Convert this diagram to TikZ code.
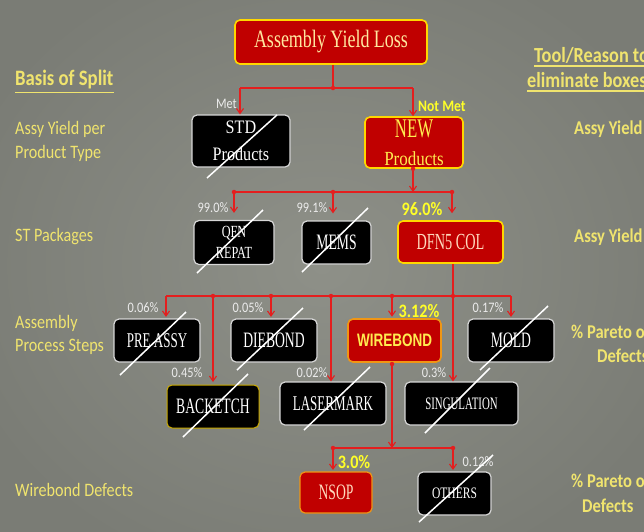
\documentclass[tikz,border=0pt]{standalone}
\usepackage{fontspec}
\setmainfont{Liberation Serif}
\newfontfamily\serA[FakeStretch=0.62]{Liberation Serif}
\newfontfamily\serB[FakeStretch=0.72]{Liberation Serif}
\newfontfamily\serC[FakeStretch=0.85]{Liberation Serif}
\newfontfamily\lbl[FakeStretch=0.85]{Carlito}
\newfontfamily\wbf[FakeStretch=0.75]{Liberation Sans}
\usetikzlibrary{arrows.meta}
\newcommand{\fsz}[1]{\fontsize{#1}{1.2\dimexpr #1pt\relax}\selectfont}
\definecolor{bgin}{RGB}{142,144,136}
\definecolor{bgout}{RGB}{122,124,117}
\definecolor{boxred}{RGB}{192,0,0}
\definecolor{ybord}{RGB}{255,215,0}
\definecolor{obord}{RGB}{240,150,20}
\definecolor{wbord}{RGB}{215,215,215}
\definecolor{conn}{RGB}{228,30,30}
\definecolor{lbly}{RGB}{240,228,110}
\definecolor{txty}{RGB}{255,232,160}
\definecolor{newy}{RGB}{255,235,80}
\definecolor{pinky}{RGB}{255,218,190}
\definecolor{pcty}{RGB}{255,255,40}
\definecolor{pctw}{RGB}{235,235,235}
\tikzset{
  redbox/.style={draw=ybord, line width=1.6pt, fill=boxred, rounded corners=5pt, inner sep=0pt, align=center, text=txty},
  blkbox/.style={draw=wbord, line width=1.2pt, fill=black, rounded corners=5pt, inner sep=0pt, align=center, text=white},
  slash/.style={draw=white, line width=1.5pt},
  wire/.style={draw=conn, line width=1.1pt},
  arr/.style={wire, -{Straight Barb[length=5pt,width=7pt]}},
  jdot/.style={circle, fill=conn, inner sep=0pt, minimum size=4.5pt},
  lefttxt/.style={anchor=west, inner sep=0pt, text=lbly, font=\lbl\fsz{19}},
  righttxt/.style={anchor=west, inner sep=0pt, text=lbly, font=\lbl\bfseries\fsz{19.5}},
  pctw/.style={inner sep=0pt, text=pctw, font=\lbl\fsz{14.5}},
  pcty/.style={inner sep=0pt, text=pcty, font=\lbl\bfseries\fsz{19}},
  uline/.style={draw=lbly, line width=1.6pt}
}
\begin{document}
\begin{tikzpicture}[x=1pt,y=-1pt]
\useasboundingbox (0,0) rectangle (644,531);
\clip (0,0) rectangle (644,531);
\shade[inner color=bgin, outer color=bgout] (-60,-60) rectangle (704,591);

% ---- boxes ----
\node[redbox, minimum width=192pt, minimum height=44pt, font=\serB\fsz{25}] (top) at (331,42) {Assembly Yield Loss};
\node[blkbox, minimum width=98pt, minimum height=52pt, font=\serC\fsz{19}] (std) at (241,141) {STD\\[4pt]Products};
\node[redbox, minimum width=98pt, minimum height=51pt, text=newy, font=\serA\fsz{27}] (new) at (414,142.5) {NEW\\[-4pt]{\serC\fsz{20}Products}};
\node[blkbox, minimum width=80pt, minimum height=44pt, font=\serB\fsz{17}] (qfn) at (234,242.5) {QFN\\[1pt]REPAT};
\node[blkbox, minimum width=69pt, minimum height=43pt, font=\serA\fsz{22}] (mems) at (336.5,242.5) {MEMS};
\node[redbox, minimum width=105pt, minimum height=42pt, text=pinky, font=\serA\fsz{23}] (dfn) at (450.5,242) {DFN5 COL};
\node[blkbox, minimum width=86pt, minimum height=43pt, font=\serA\fsz{21}] (pre) at (157,340.5) {PRE ASSY};
\node[blkbox, minimum width=86pt, minimum height=43pt, font=\serA\fsz{22}] (die) at (274,340.5) {DIEBOND};
\node[redbox, draw=obord, minimum width=93pt, minimum height=43pt, text=newy, font=\wbf\bfseries\fsz{18}] (wire) at (394.5,340.5) {WIREBOND};
\node[blkbox, minimum width=86pt, minimum height=43pt, font=\serA\fsz{22}] (mold) at (511,340.5) {MOLD};
\node[blkbox, draw=ybord!80!black, line width=1pt, minimum width=92pt, minimum height=43pt, font=\serA\fsz{22}] (back) at (213,406.5) {BACKETCH};
\node[blkbox, minimum width=106pt, minimum height=43pt, font=\serA\fsz{21}] (laser) at (333,403.5) {LASERMARK};
\node[blkbox, minimum width=113pt, minimum height=43pt, font=\serA\fsz{17.5}] (sing) at (461.5,403.5) {SINGULATION};
\node[redbox, draw=obord, line width=1.2pt, minimum width=72pt, minimum height=41pt, text=pinky, font=\serA\fsz{22}] (nsop) at (336,492.5) {NSOP};
\node[blkbox, minimum width=73pt, minimum height=43pt, font=\serB\fsz{16}] (oth) at (454.5,493.5) {OTHERS};

% ---- level 1 ----
\coordinate (j1) at (333,88);
\coordinate (j1l) at (240,88);
\coordinate (j1r) at (413,88);
\draw[wire] (top.south -| j1) -- (j1);
\draw[wire] (j1l) -- (j1r);
\draw[arr] (j1l) -- (j1l |- std.north);
\draw[arr] (j1r) -- (j1r |- new.north);
\node[jdot] (d1) at (j1) {};

% ---- level 2 ----
\coordinate (j2) at (413,192);
\coordinate (j2l) at (234,192);
\coordinate (j2m) at (333,192);
\coordinate (j2r) at (452,192);
\node[jdot] (d2s) at (new.south -| j2) {};
\draw[arr] (d2s) -- (j2);
\draw[wire] (j2l) -- (j2r);
\draw[arr, shorten >=7pt] (j2l) -- (j2l |- qfn.north);
\draw[arr, shorten >=7pt] (j2m) -- (j2m |- mems.north);
\draw[arr, shorten >=7pt] (j2r) -- (j2r |- dfn.north);
\foreach \c in {j2l,j2m,j2r} \node[jdot] at (\c) {};

% ---- level 3 ----
\coordinate (j3) at (453,296);
\coordinate (p1) at (166,296);
\coordinate (p2) at (213,296);
\coordinate (p3) at (271,296);
\coordinate (p4) at (331,296);
\coordinate (p5) at (392,296);
\coordinate (p6) at (453,296);
\coordinate (p7) at (511,296);
\draw[wire] (dfn.south -| j3) -- (j3);
\draw[wire] (p1) -- (p7);
\draw[arr, shorten >=1.5pt] (p1) -- (p1 |- pre.north);
\draw[arr, shorten >=2.5pt] (p2) -- (p2 |- back.north);
\draw[arr, shorten >=1.5pt] (p3) -- (p3 |- die.north);
\draw[arr] (p4) -- (p4 |- laser.north);
\draw[arr, shorten >=1.5pt] (p5) -- (p5 |- wire.north);
\draw[arr] (p6) -- (p6 |- sing.north);
\draw[arr, shorten >=1.5pt] (p7) -- (p7 |- mold.north);
\foreach \c in {p2,p3,p4,p5,p6} \node[jdot] at (\c) {};

% ---- level 4 ----
\coordinate (j4) at (392,448);
\coordinate (q1) at (333,448);
\coordinate (q2) at (453,448);
\node[jdot] (d4s) at (392,364) {};
\draw[arr] (wire.south -| j4) -- (j4);
\draw[wire] (q1) -- (q2);
\draw[arr, shorten >=1.5pt] (q1) -- (q1 |- nsop.north);
\draw[arr, shorten >=1.5pt] (q2) -- (q2 |- oth.north);
\foreach \c in {q1,q2} \node[jdot] at (\c) {};

% ---- percentages and branch labels ----
\node[inner sep=0pt, anchor=east, text=pctw, font=\lbl\fsz{14.5}] (met) at (237,104) {Met};
\node[inner sep=0pt, anchor=west, text=pcty, font=\lbl\bfseries\fsz{16}] (notmet) at (418,106) {Not Met};
\node[pctw] (l990) at (213,208) {99.0\%};
\node[pctw] (l991) at (312,208) {99.1\%};
\node[pcty] (l960) at (422,209) {96.0\%};
\node[pctw] (l006) at (143,308) {0.06\%};
\node[pctw] (l005) at (248,308) {0.05\%};
\node[pcty] (l312) at (419,311) {3.12\%};
\node[pctw] (l017) at (488,308) {0.17\%};
\node[pctw] (l045) at (187,373) {0.45\%};
\node[pctw] (l002) at (312,373) {0.02\%};
\node[pctw] (l03) at (434,373) {0.3\%};
\node[pcty] (l30) at (354,462) {3.0\%};
\node[pctw] (l012) at (478,462) {0.12\%};

% ---- slashes ----
\draw[slash] (207,178) -- (277,115);
\draw[slash] (197,273) -- (263,210);
\draw[slash] (302,272) -- (368,208);
\draw[slash] (120,375) -- (186,312);
\draw[slash] (237,370) -- (303,308);
\draw[slash] (480,370) -- (548,306);
\draw[slash] (183,437) -- (248,374);
\draw[slash] (304,430) -- (370,367);
\draw[slash] (425,433) -- (490,368);
\draw[slash] (419,522) -- (493,455);

% ---- left column ----
\node[lefttxt, font=\lbl\bfseries\fsz{22}] (basis) at (15,80) {Basis of Split};
\draw[uline] ([yshift=-3pt]basis.south west) -- ([yshift=-3pt]basis.south east);
\node[lefttxt] (ly1) at (15,129) {Assy Yield per};
\node[lefttxt] (ly2) at (15,153) {Product Type};
\node[lefttxt] (lst) at (15,237) {ST Packages};
\node[lefttxt] (las1) at (15,323) {Assembly};
\node[lefttxt] (las2) at (15,347) {Process Steps};
\node[lefttxt] (lwb) at (15,490) {Wirebond Defects};

% ---- right column ----
\node[righttxt, font=\lbl\bfseries\fsz{21.5}] (tool) at (534,55) {Tool/Reason to};
\draw[uline] ([yshift=-3pt]tool.south west) -- ([yshift=-3pt]tool.south east);
\node[righttxt, font=\lbl\bfseries\fsz{21.5}] (elim) at (527,80) {eliminate boxes};
\draw[uline] ([yshift=-3pt]elim.south west) -- ([yshift=-3pt]elim.south east);
\node[righttxt] (ry1) at (574,129) {Assy Yield};
\node[righttxt] (ry2) at (574,237) {Assy Yield};
\node[righttxt] (rp1) at (571,332) {\% Pareto of};
\node[righttxt] (rd1) at (597,356) {Defects};
\node[righttxt] (rp2) at (571,481) {\% Pareto of};
\node[righttxt] (rd2) at (582,506) {Defects};
\end{tikzpicture}
\end{document}
